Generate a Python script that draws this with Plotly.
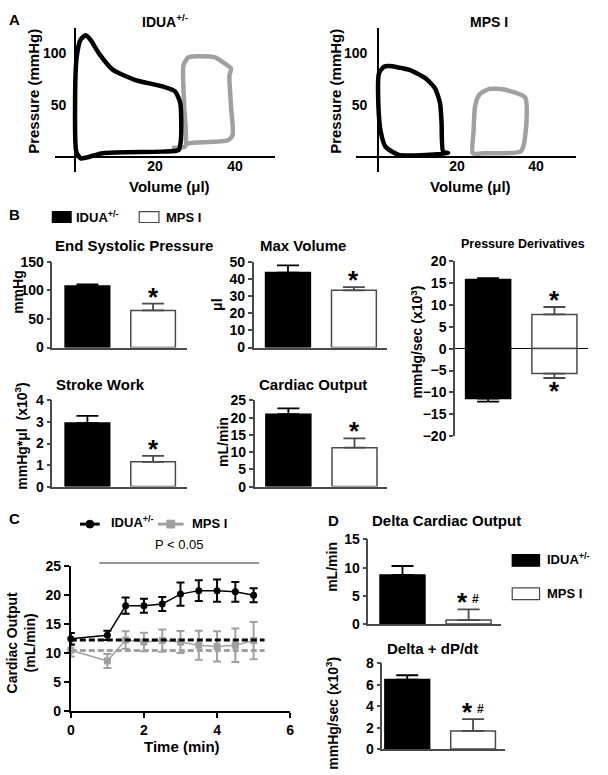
import plotly.graph_objects as go

W, H = 608, 775
def fx(p): return p / W
def fy(p): return 1 - p / H

FONT = "Liberation Sans, Arial, Helvetica, sans-serif"
GRAY = "#a0a0a0"
EDGE = "#4a4a4a"

# ---------------- Panel A : pressure-volume loops ----------------
a_left_black_vol = [0.3, 0.0, 0.4, 1.4, 2.6, 3.8, 6.1, 9.4, 15.1, 21.7, 25.0, 26.3, 26.5, 25.9, 21.7, 6.9, 1.4, 0.3]
a_left_black_pres = [5, 49, 96, 113, 117, 113, 99, 84, 74, 68, 63, 52, 17.6, 6.6, 5, 3.5, -1.5, 5]
a_left_gray_vol = [24.2, 27.5, 27.3, 27.1, 28.4, 34.9, 37.0, 39.0, 38.6, 39.0, 39.4, 38.2, 28.4, 27.5]
a_left_gray_pres = [8.8, 10, 49, 88, 96, 96, 91, 85, 78, 49, 21, 16, 13, 11]
a_right_black_vol = [0.25, 1.5, 2.75, 7.75, 11.9, 14.4, 15.7, 16.1, 16.5, 17.75, 5.25, 1.9, 0.7, 0.1, 0.25]
a_right_black_pres = [80.5, 86.8, 87.4, 84, 76, 66.3, 52, 33, 5, 3.5, 1.9, 9.7, 24, 49, 80.5]
a_right_gray_vol = [24.0, 24.2, 24.6, 25.7, 28.2, 31.9, 37.3, 37.6, 36.9, 36.1, 26.9, 24.0]
a_right_gray_pres = [3.5, 24, 49, 60, 65.4, 64.8, 57, 33, 11.3, 5, 3.5, 3.5]

# ---------------- Panel B : bar summaries ----------------
bar_pos = [0, 1]                       # IDUA+/- , MPS I
esp_mean, esp_err = [108, 65], [2.5, 12]
mv_mean, mv_err = [43.8, 33.4], [4.2, 1.9]
pd_pos_mean, pd_pos_err = [15.8, 7.8], [0.3, 1.7]
pd_neg_mean, pd_neg_err = [-11.4, -5.7], [0.7, 1.0]
sw_mean, sw_err = [2.95, 1.15], [0.33, 0.28]
co_mean, co_err = [21.0, 11.3], [1.7, 2.7]

# ---------------- Panel C : cardiac output time course ----------------
time_min = [0, 1, 1.5, 2, 2.5, 3, 3.5, 4, 4.5, 5]
idua_co = [12.5, 13.1, 18.2, 18.2, 18.5, 20.2, 20.8, 20.8, 20.6, 20.0]
idua_co_err = [1.0, 0.8, 1.4, 1.2, 1.2, 2.0, 1.8, 1.9, 1.7, 1.2]
mps_co = [10.55, 8.7, 12.3, 11.95, 12.2, 11.95, 11.4, 11.2, 11.4, 12.2]
mps_co_err = [1.1, 1.2, 1.5, 1.6, 1.9, 1.9, 2.5, 2.6, 2.9, 3.2]
baseline_x = [0, 5.3]
idua_baseline = 12.3
mps_baseline = 10.5
sig_span = [0.78, 5.15]

# ---------------- Panel D : deltas ----------------
dco_mean, dco_err = [8.7, 0.7], [1.6, 1.9]
ddp_mean, ddp_err = [6.5, 1.7], [0.4, 1.1]

TICKFONT = dict(family=FONT, size=14, color="black", weight="bold")

fig = go.Figure()
layout = dict(width=W, height=H, margin=dict(l=0, r=0, t=0, b=0),
              paper_bgcolor="white", plot_bgcolor="white", showlegend=False,
              font=dict(family=FONT, size=14, color="black"))
annotations = []
shapes = []

def ax_id(n):
    return "" if n == 1 else str(n)

def ann(text, x, y, size=15, bold=True, xanchor="center", yanchor="middle", angle=0, **kw):
    annotations.append(dict(text=("<b>%s</b>" % text) if bold else text, x=fx(x), y=fy(y),
                            xref="paper", yref="paper", showarrow=False, xanchor=xanchor,
                            yanchor=yanchor, textangle=angle,
                            font=dict(family=FONT, size=size, color="black"), **kw))

# ---- Panel A axes & loops ----
def pv_axes(n, xd, xr, standoff_x, standoff_y):
    s = ax_id(n)
    layout["xaxis" + s] = dict(domain=[fx(xd[0]), fx(xd[1])], range=xr, anchor="y" + s,
                               showline=False, showgrid=False, zeroline=True, zerolinecolor="black",
                               zerolinewidth=1.6, tickvals=[20, 40], ticks="", tickfont=TICKFONT,
                               ticklabelstandoff=standoff_x, fixedrange=True)
    layout["yaxis" + s] = dict(domain=[fy(167), fy(20)], range=[-14.2, 124.5], anchor="x" + s,
                               showline=False, showgrid=False, zeroline=True, zerolinecolor="black",
                               zerolinewidth=1.6, tickvals=[50, 100], ticks="", tickfont=TICKFONT,
                               ticklabelstandoff=standoff_y, fixedrange=True)

pv_axes(1, (52, 275), [-4.94, 50.1], -16, -12)
pv_axes(2, (357, 580), [-5.5, 50.25], -16, -12)

for n, vx, vy, col in [(1, a_left_gray_vol, a_left_gray_pres, GRAY),
                       (1, a_left_black_vol, a_left_black_pres, "black"),
                       (2, a_right_gray_vol, a_right_gray_pres, GRAY),
                       (2, a_right_black_vol, a_right_black_pres, "black")]:
    s = ax_id(n)
    fig.add_trace(go.Scatter(x=vx, y=vy, mode="lines", xaxis="x" + s, yaxis="y" + s,
                             line=dict(color=col, width=4.5, shape="spline", smoothing=0.6)))

# ---- bar panels ----
def bar_axes(n, xd, yd, xr, yr, dtick, xline=True):
    s = ax_id(n)
    layout["xaxis" + s] = dict(domain=[fx(xd[0]), fx(xd[1])], range=xr, anchor="y" + s,
                               showline=xline, linecolor=EDGE, linewidth=1.5, ticks="",
                               showticklabels=False, showgrid=False, zeroline=False, fixedrange=True)
    layout["yaxis" + s] = dict(domain=[fy(yd[1]), fy(yd[0])], range=yr, anchor="x" + s,
                               showline=True, linecolor=EDGE, linewidth=1.5, ticks="outside",
                               ticklen=4, tickwidth=1.5, tickcolor=EDGE, dtick=dtick, tick0=0,
                               showgrid=False, zeroline=False, tickfont=TICKFONT, fixedrange=True)

def bars(n, mean, err, down=False, width=0.68):
    s = ax_id(n)
    for i, (fill, edge) in enumerate([("black", "black"), ("white", EDGE)]):
        ey = dict(type="data", symmetric=False, array=[0 if down else err[i]],
                  arrayminus=[err[i] if down else 0], color=edge, thickness=1.8, width=11)
        fig.add_trace(go.Bar(x=[bar_pos[i]], y=[mean[i]], width=width, xaxis="x" + s, yaxis="y" + s,
                             marker=dict(color=fill, line=dict(color=edge, width=1.5)), error_y=ey))

def star(n, i, yval, below=False, shift=0):
    s = ax_id(n)
    annotations.append(dict(text="<b>*</b>", x=bar_pos[i], y=yval, xref="x" + s, yref="y" + s,
                            showarrow=False, yanchor="top" if below else "bottom", yshift=shift,
                            font=dict(family=FONT, size=26, color="black")))

bar_axes(3, (49, 185), (259.3, 346.7), [-0.534, 1.51], [0, 150], 50)
bars(3, esp_mean, esp_err)
star(3, 1, esp_mean[1] + esp_err[1], shift=-10)

bar_axes(4, (253, 388), (259.3, 346.7), [-0.52, 1.50], [0, 50], 10)
bars(4, mv_mean, mv_err)
star(4, 1, mv_mean[1] + mv_err[1], shift=-10)

bar_axes(5, (457, 592), (258.3, 437.3), [-0.50, 1.51], [-20, 20], 5, xline=False)
layout["yaxis5"].update(zeroline=True, zerolinecolor="black", zerolinewidth=1.2)
bars(5, pd_pos_mean, pd_pos_err)
bars(5, pd_neg_mean, pd_neg_err, down=True)
star(5, 1, pd_pos_mean[1] + pd_pos_err[1], shift=-10)
star(5, 1, pd_neg_mean[1] - pd_neg_err[1], below=True, shift=4)

bar_axes(6, (49, 185), (400.7, 488.7), [-0.534, 1.51], [0, 4], 1)
bars(6, sw_mean, sw_err)
star(6, 1, sw_mean[1] + sw_err[1], shift=-10)

bar_axes(7, (254, 388), (400.7, 488.7), [-0.51, 1.49], [0, 25], 5)
bars(7, co_mean, co_err)
star(7, 1, co_mean[1] + co_err[1], shift=-10)

# ---- Panel C ----
layout["xaxis8"] = dict(domain=[fx(67.7), fx(290)], range=[0, 6], dtick=2, anchor="y8",
                        showline=True, linecolor="black", linewidth=2, ticks="outside", ticklen=5,
                        tickwidth=2, tickcolor="black", showgrid=False, zeroline=False,
                        tickfont=TICKFONT, fixedrange=True)
layout["yaxis8"] = dict(domain=[fy(718.3), fy(570)], range=[0, 25], dtick=5, anchor="x8",
                        showline=True, linecolor="black", linewidth=2, ticks="outside", ticklen=5,
                        tickwidth=2, tickcolor="black", showgrid=False, zeroline=False,
                        tickfont=TICKFONT, fixedrange=True)
fig.add_trace(go.Scatter(x=time_min, y=mps_co, mode="lines+markers", xaxis="x8", yaxis="y8",
                         line=dict(color=GRAY, width=1.5), cliponaxis=False,
                         marker=dict(symbol="square", size=7, color=GRAY),
                         error_y=dict(type="data", array=mps_co_err, color=GRAY, thickness=2, width=4)))
fig.add_trace(go.Scatter(x=time_min, y=idua_co, mode="lines+markers", xaxis="x8", yaxis="y8",
                         line=dict(color="black", width=1.5), cliponaxis=False,
                         marker=dict(symbol="circle", size=7, color="black"),
                         error_y=dict(type="data", array=idua_co_err, color="black", thickness=2, width=4)))
fig.add_trace(go.Scatter(x=baseline_x, y=[mps_baseline] * 2, mode="lines", xaxis="x8", yaxis="y8",
                         line=dict(color=GRAY, width=3, dash="6px,3px")))
fig.add_trace(go.Scatter(x=baseline_x, y=[idua_baseline] * 2, mode="lines", xaxis="x8", yaxis="y8",
                         line=dict(color="black", width=3, dash="6px,3px")))
shapes.append(dict(type="line", xref="x8", yref="paper", x0=sig_span[0], x1=sig_span[1],
                   y0=fy(566.7), y1=fy(566.7), line=dict(color="#707070", width=1.5)))
annotations.append(dict(text="P < 0.05", x=sum(sig_span) / 2, y=fy(558), xref="x8", yref="paper",
                        showarrow=False, font=dict(family=FONT, size=13, color="black")))

# ---- Panel D ----
bar_axes(9, (369.3, 504), (542.7, 629), [-0.515, 1.496], [0, 15], 5)
bars(9, dco_mean, dco_err)
bar_axes(10, (383.3, 508), (669.3, 756.7), [-0.38, 1.49], [0, 8], 2)
bars(10, ddp_mean, ddp_err)
for n, m, e in [(9, dco_mean, dco_err), (10, ddp_mean, ddp_err)]:
    s = ax_id(n)
    annotations.append(dict(text="<b>*</b>", x=bar_pos[1], y=m[1] + e[1], xref="x" + s, yref="y" + s,
                            showarrow=False, yanchor="bottom", yshift=-10, xshift=-6,
                            font=dict(family=FONT, size=26, color="black")))
    annotations.append(dict(text="<b>#</b>", x=bar_pos[1], y=m[1] + e[1], xref="x" + s, yref="y" + s,
                            showarrow=False, yanchor="bottom", yshift=1, xshift=7,
                            font=dict(family=FONT, size=12, color="black")))

# ---- text labels ----
ann("A", 3, 12, xanchor="left")
ann("IDUA<sup>+/-</sup>", 163, 13, size=14)
ann("MPS I", 491, 14, size=14)
ann("Pressure (mmHg)", 30, 85, angle=-90)
ann("Pressure (mmHg)", 336, 85, angle=-90)
ann("Volume (μl)", 168, 182)
ann("Volume (μl)", 473, 182)

ann("B", 3, 211, xanchor="left")
ann("End Systolic Pressure", 50, 242, xanchor="left")
ann("Max Volume", 257, 242, xanchor="left")
ann("Pressure Derivatives", 461, 241, size=12.5, xanchor="left")
ann("Stroke Work", 51, 384, xanchor="left")
ann("Cardiac Output", 256, 384, xanchor="left")
ann("mmHg", 14, 290, size=14, angle=-90)
ann("μl", 216, 303, size=14, angle=-90)
ann("mmHg/sec (x10<sup>3</sup>)", 418, 341, size=14, angle=-90)
ann("mmHg*μl  (x10<sup>3</sup>)", 17, 437, size=14, angle=-90)
ann("mL/min", 222, 443, size=14, angle=-90)

ann("C", 3, 521, xanchor="left")
ann("Cardiac Output<br>(mL/min)", 17, 648, size=14, angle=-90)
ann("Time (min)", 180, 754)

ann("D", 326, 523, xanchor="left")
ann("Delta Cardiac Output", 371, 523, xanchor="left")
ann("mL/min", 333, 571, size=14, angle=-90)
ann("Delta + dP/dt", 386, 654, xanchor="left")
ann("mmHg/sec (x10<sup>3</sup>)", 333, 720, size=14, angle=-90)

# ---- legends (drawn) ----
def rect(x0, y0, x1, y1, fill, edge):
    shapes.append(dict(type="rect", xref="paper", yref="paper", x0=fx(x0), x1=fx(x1), y0=fy(y1), y1=fy(y0),
                       fillcolor=fill, line=dict(color=edge, width=1.2)))

rect(49, 208, 68, 219, "black", "black")
ann("IDUA<sup>+/-</sup>", 71, 213, size=13, xanchor="left")
rect(137, 208, 157, 219, "white", EDGE)
ann("MPS I", 162, 213.5, size=13, xanchor="left")

rect(515, 558, 542.7, 570, "black", "black")
ann("IDUA<sup>+/-</sup>", 548, 563, size=13, xanchor="left")
rect(515, 592, 542.7, 604, "white", EDGE)
ann("MPS I", 548, 598, size=13, xanchor="left")

shapes.append(dict(type="line", xref="paper", yref="paper", x0=fx(77), x1=fx(97), y0=fy(527), y1=fy(527),
                   line=dict(color="black", width=3)))
shapes.append(dict(type="circle", xref="paper", yref="paper", x0=fx(83), x1=fx(91), y0=fy(531), y1=fy(523),
                   fillcolor="black", line=dict(color="black", width=1)))
ann("IDUA<sup>+/-</sup>", 106, 525, size=13, xanchor="left")
shapes.append(dict(type="line", xref="paper", yref="paper", x0=fx(156), x1=fx(182), y0=fy(527), y1=fy(527),
                   line=dict(color=GRAY, width=3)))
shapes.append(dict(type="rect", xref="paper", yref="paper", x0=fx(165), x1=fx(173), y0=fy(531), y1=fy(523),
                   fillcolor=GRAY, line=dict(color=GRAY, width=1)))
ann("MPS I", 188, 526, size=13, xanchor="left")

layout["annotations"] = annotations
layout["shapes"] = shapes
layout["barmode"] = "overlay"
fig.update_layout(**layout)
fig.write_html("out.html", config={"displayModeBar": False},
               post_script="document.body.style.margin='0';document.body.style.padding='0';")
